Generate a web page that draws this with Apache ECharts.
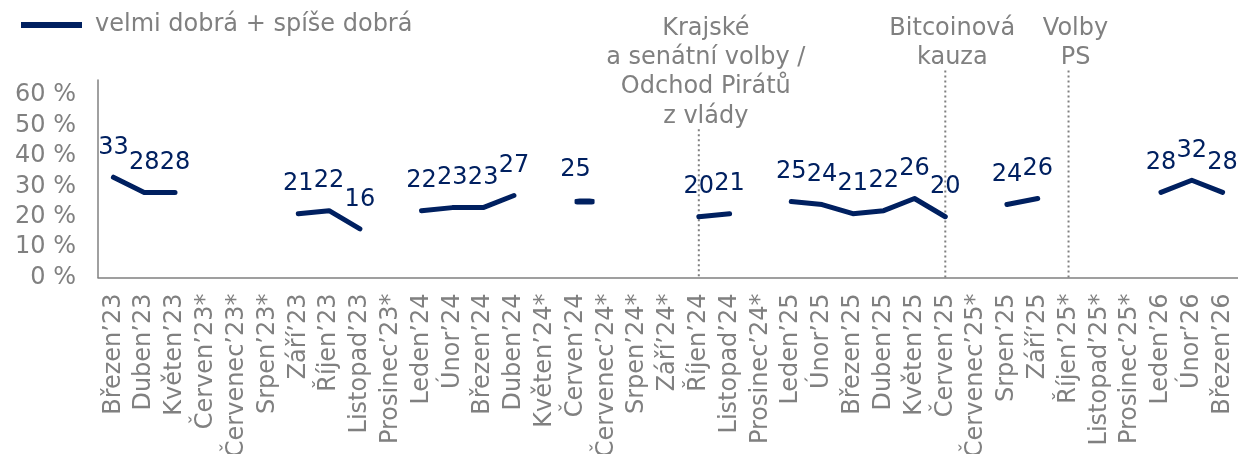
<!DOCTYPE html>
<html><head><meta charset="utf-8">
<script src="https://cdn.jsdelivr.net/npm/echarts@6/dist/echarts.min.js"></script>
<style>html,body{margin:0;padding:0;background:#fff}#c{width:1238px;height:454px}</style>
</head><body><div id="c"></div>
<script>
const categories = ['Březen’23','Duben’23','Květen’23','Červen’23*','Červenec’23*','Srpen’23*','Září’23','Říjen’23','Listopad’23','Prosinec’23*','Leden’24','Únor’24','Březen’24','Duben’24','Květen’24*','Červen’24','Červenec’24*','Srpen’24*','Září’24*','Říjen’24','Listopad’24','Prosinec’24*','Leden’25','Únor’25','Březen’25','Duben’25','Květen’25','Červen’25','Červenec’25*','Srpen’25','Září’25','Říjen’25*','Listopad’25*','Prosinec’25*','Leden’26','Únor’26','Březen’26'];
const values = [33,28,28,null,null,null,21,22,16,null,22,23,23,27,null,25,null,null,null,20,21,null,25,24,21,22,26,20,null,24,26,null,null,null,28,32,28];
const yTicks = [0,10,20,30,40,50,60];
const seriesName = 'velmi dobrá + spíše dobrá';
const eventCats = ['Říjen’24','Červen’25','Říjen’25*'];
const eventTexts = ['Krajské\na senátní volby /\nOdchod Pirátů\nz vlády','Bitcoinová\nkauza','Volby\nPS'];

const FONT = 'DejaVu Sans';
const NAVY = '#002060';
const GREY = '#808080';

const seriesData = values.map((v, i) => {
  const isolated = v != null && values[i-1] == null && values[i+1] == null;
  if (isolated) {
    return {value: v, symbol: 'roundRect', symbolSize: [20, 6], symbolOffset: [9, 0],
      itemStyle: {color: NAVY}, label: {offset: [-9, 0]}};
  }
  return v;
});

const chart = echarts.init(document.getElementById('c'), null, {renderer: 'canvas'});
chart.setOption({
  animation: false,
  textStyle: {fontFamily: FONT},
  legend: {
    left: 21, top: 13, padding: 0, itemWidth: 61, itemHeight: 6, icon: 'rect',
    data: [{name: seriesName, itemStyle: {color: NAVY}}],
    textStyle: {color: GREY, fontSize: 24, fontFamily: FONT, padding: [0,0,0,8]}
  },
  grid: {left: 98, right: 0, top: 80, bottom: 176.5, containLabel: false, outerBoundsMode: 'none'},
  xAxis: {
    type: 'category', data: categories, boundaryGap: true,
    axisLine: {lineStyle: {color: GREY, width: 1.5}},
    axisTick: {show: false},
    axisLabel: {rotate: 90, interval: 0, color: GREY, fontSize: 24, fontFamily: FONT, margin: 16, hideOverlap: false}
  },
  yAxis: {
    type: 'value', min: yTicks[0], max: 65, interval: 10,
    axisLine: {show: true, lineStyle: {color: GREY, width: 1.5}},
    axisTick: {show: false},
    splitLine: {show: false},
    axisLabel: {formatter: '{value} %', color: GREY, fontSize: 24, fontFamily: FONT, margin: 22, showMaxLabel: false}
  },
  series: [{
    name: seriesName, type: 'line', data: seriesData,
    connectNulls: false, showSymbol: true, showAllSymbol: true,
    symbol: 'circle', symbolSize: 1,
    itemStyle: {color: 'rgba(0,0,0,0)'},
    lineStyle: {color: NAVY, width: 5, cap: 'round', join: 'round'},
    label: {show: true, position: 'top', distance: 17, color: NAVY, fontSize: 24, fontFamily: FONT},
    emphasis: {disabled: true}
  }]
});

// Event annotations positioned with the chart's own scales
const textTop = 14, lh = 29.3;
const gEls = [];
eventCats.forEach((cat, k) => {
  const idx = categories.indexOf(cat);
  const x = chart.convertToPixel({xAxisIndex: 0}, idx);
  const yBottom = chart.convertToPixel({yAxisIndex: 0}, 0);
  const nLines = eventTexts[k].split('\n').length;
  const yTop = textTop + nLines * lh - 2;
  gEls.push({type: 'line', silent: true, z: 1,
    shape: {x1: x, y1: yTop, x2: x, y2: yBottom},
    style: {stroke: GREY, lineWidth: 2, lineDash: [2, 3]}});
  gEls.push({type: 'text', silent: true, z: 2, x: x + 7, y: textTop,
    style: {text: eventTexts[k], fill: GREY, font: '24px "DejaVu Sans"', lineHeight: lh,
      textAlign: 'center', textVerticalAlign: 'top', align: 'center', verticalAlign: 'top'}});
});
chart.setOption({graphic: gEls});
</script>
</body></html>
